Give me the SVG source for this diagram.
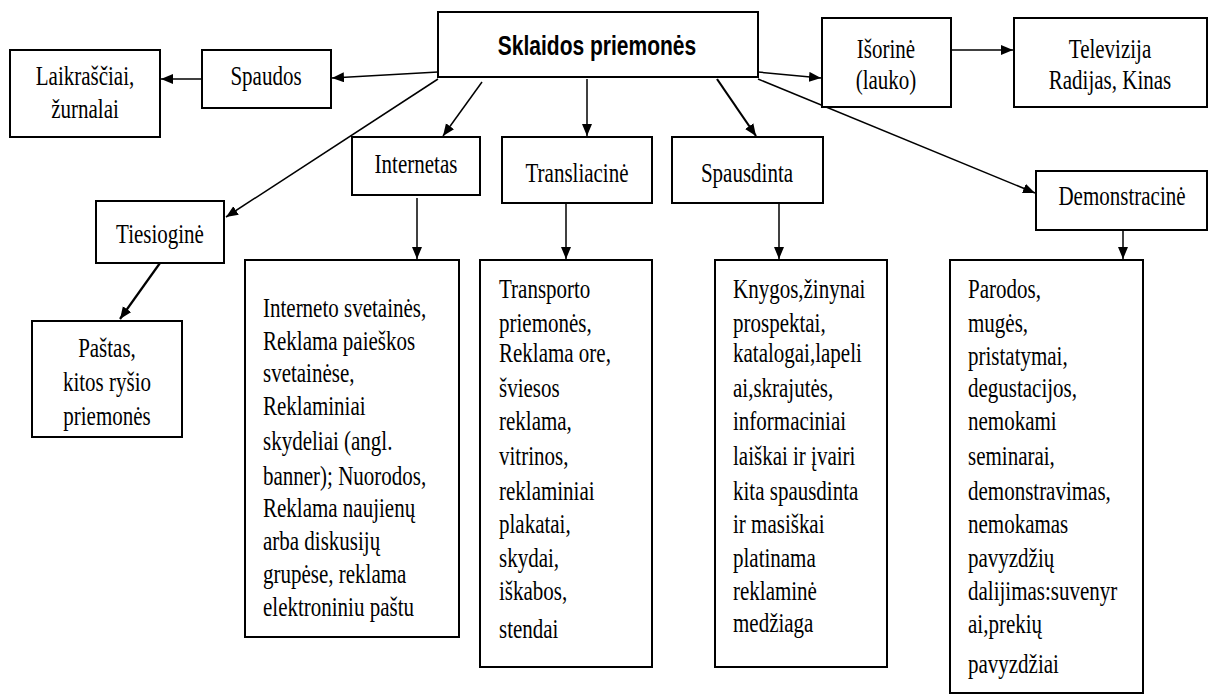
<svg xmlns="http://www.w3.org/2000/svg" width="1212" height="695" viewBox="0 0 1212 695">
<style>
.box{fill:#fff;stroke:#000;stroke-width:2}
.t{font-family:"Liberation Serif","Times New Roman",serif;font-size:21px;fill:#000}
.c{text-anchor:middle}
.title{font-family:"Liberation Sans",Arial,sans-serif;font-size:21px;font-weight:bold;fill:#000;text-anchor:middle}
.ln{stroke:#000;stroke-width:1.5;fill:none;marker-end:url(#ah)}
.lnb{stroke:#000;stroke-width:2.2;fill:none;marker-end:url(#ah)}
</style>
<defs>
<marker id="ah" markerUnits="userSpaceOnUse" markerWidth="13" markerHeight="11" refX="12" refY="5" orient="auto">
<path d="M0,0 L12,5 L0,10 z" fill="#000"/>
</marker>
</defs>
<rect width="1212" height="695" fill="#fff"/>
<g id="connectors">
<path class="ln" d="M438,72 L332,78"/>
<path class="ln" d="M202,79 L161,79"/>
<path class="ln" d="M758,72 L821,78"/>
<path class="ln" d="M951,50 L1013,50"/>
<path class="ln" d="M438,79 L226,217"/>
<path class="ln" d="M482,82 L443,136"/>
<path class="ln" d="M587,79 L587,136"/>
<path class="lnb" d="M717,79 L756,136"/>
<path class="ln" d="M758,79 L1035,193"/>
<path class="lnb" d="M160,263 L120,319"/>
<path class="ln" d="M417,198 L417,259"/>
<path class="ln" d="M566,204 L566,259"/>
<path class="ln" d="M779,204 L779,259"/>
<path class="ln" d="M1123,231 L1123,259"/>
</g>
<g id="n-main">
<rect class="box" x="438" y="12" width="320" height="65"/>
<text class="title" transform="scale(1,1.35)" x="597" y="40.74">Sklaidos priemonės</text>
</g>
<g id="n-spaudos">
<rect class="box" x="202" y="50" width="129" height="58"/>
<text class="t c" transform="scale(1,1.35)" x="266" y="62.96">Spaudos</text>
</g>
<g id="n-laikrasciai">
<rect class="box" x="10" y="50" width="150" height="87"/>
<text class="t c" transform="scale(1,1.35)"><tspan x="85" y="62.96">Laikraščiai,</tspan><tspan x="85" y="87.41">žurnalai</tspan></text>
</g>
<g id="n-isorine">
<rect class="box" x="822" y="18" width="129" height="89"/>
<text class="t c" transform="scale(1,1.35)"><tspan x="886" y="42.96">Išorinė</tspan><tspan x="886" y="65.93">(lauko)</tspan></text>
</g>
<g id="n-televizija">
<rect class="box" x="1014" y="18" width="193" height="89"/>
<text class="t c" transform="scale(1,1.35)"><tspan x="1110" y="42.96">Televizija</tspan><tspan x="1110" y="65.93">Radijas, Kinas</tspan></text>
</g>
<g id="n-internetas">
<rect class="box" x="352" y="137" width="128" height="58"/>
<text class="t c" transform="scale(1,1.35)" x="416" y="128.15">Internetas</text>
</g>
<g id="n-transliacine">
<rect class="box" x="502" y="137" width="150" height="66"/>
<text class="t c" transform="scale(1,1.35)" x="577" y="134.81">Transliacinė</text>
</g>
<g id="n-spausdinta">
<rect class="box" x="672" y="137" width="151" height="66"/>
<text class="t c" transform="scale(1,1.35)" x="747" y="134.81">Spausdinta</text>
</g>
<g id="n-demonstracine">
<rect class="box" x="1036" y="171" width="171" height="59"/>
<text class="t c" transform="scale(1,1.35)" x="1122" y="151.85">Demonstracinė</text>
</g>
<g id="n-tiesiogine">
<rect class="box" x="96" y="201" width="128" height="62"/>
<text class="t c" transform="scale(1,1.35)" x="160" y="180">Tiesioginė</text>
</g>
<g id="n-pastas">
<rect class="box" x="32" y="321" width="150" height="116"/>
<text class="t c" transform="scale(1,1.35)"><tspan x="107" y="264.44">Paštas,</tspan><tspan x="107" y="289.63">kitos ryšio</tspan><tspan x="107" y="314.81">priemonės</tspan></text>
</g>
<g id="n-internetas-list">
<rect class="box" x="245" y="260" width="214" height="377"/>
<text class="t" transform="scale(1,1.35)"><tspan x="263" y="234.81">Interneto svetainės,</tspan><tspan x="263" y="259.26">Reklama paieškos</tspan><tspan x="263" y="282.96">svetainėse,</tspan><tspan x="263" y="307.41">Reklaminiai</tspan><tspan x="263" y="333.33">skydeliai (angl.</tspan><tspan x="263" y="359.26">banner); Nuorodos,</tspan><tspan x="263" y="382.96">Reklama naujienų</tspan><tspan x="263" y="407.41">arba diskusijų</tspan><tspan x="263" y="431.85">grupėse, reklama</tspan><tspan x="263" y="456.30">elektroniniu paštu</tspan></text>
</g>
<g id="n-transliacine-list">
<rect class="box" x="480" y="260" width="172" height="407"/>
<text class="t" transform="scale(1,1.35)"><tspan x="499" y="220.74">Transporto</tspan><tspan x="499" y="245.93">priemonės,</tspan><tspan x="499" y="268.15">Reklama ore,</tspan><tspan x="499" y="294.07">šviesos</tspan><tspan x="499" y="318.52">reklama,</tspan><tspan x="499" y="344.44">vitrinos,</tspan><tspan x="499" y="370.37">reklaminiai</tspan><tspan x="499" y="394.81">plakatai,</tspan><tspan x="499" y="420">skydai,</tspan><tspan x="499" y="444.44">iškabos,</tspan><tspan x="499" y="472.59">stendai</tspan></text>
</g>
<g id="n-spausdinta-list">
<rect class="box" x="715" y="260" width="172" height="407"/>
<text class="t" transform="scale(1,1.35)"><tspan x="733" y="220.74">Knygos,žinynai</tspan><tspan x="733" y="245.93">prospektai,</tspan><tspan x="733" y="268.15">katalogai,lapeli</tspan><tspan x="733" y="294.07">ai,skrajutės,</tspan><tspan x="733" y="318.52">informaciniai</tspan><tspan x="733" y="344.44">laiškai ir įvairi</tspan><tspan x="733" y="370.37">kita spausdinta</tspan><tspan x="733" y="394.81">ir masiškai</tspan><tspan x="733" y="420">platinama</tspan><tspan x="733" y="444.44">reklaminė</tspan><tspan x="733" y="468.15">medžiaga</tspan></text>
</g>
<g id="n-demonstracine-list">
<rect class="box" x="950" y="260" width="193" height="433"/>
<text class="t" transform="scale(1,1.35)"><tspan x="968" y="220.74">Parodos,</tspan><tspan x="968" y="245.93">mugės,</tspan><tspan x="968" y="270.37">pristatymai,</tspan><tspan x="968" y="294.07">degustacijos,</tspan><tspan x="968" y="318.52">nemokami</tspan><tspan x="968" y="344.44">seminarai,</tspan><tspan x="968" y="370.37">demonstravimas,</tspan><tspan x="968" y="394.81">nemokamas</tspan><tspan x="968" y="420">pavyzdžių</tspan><tspan x="968" y="444.44">dalijimas:suvenyr</tspan><tspan x="968" y="468.89">ai,prekių</tspan><tspan x="968" y="498.52">pavyzdžiai</tspan></text>
</g>
</svg>
